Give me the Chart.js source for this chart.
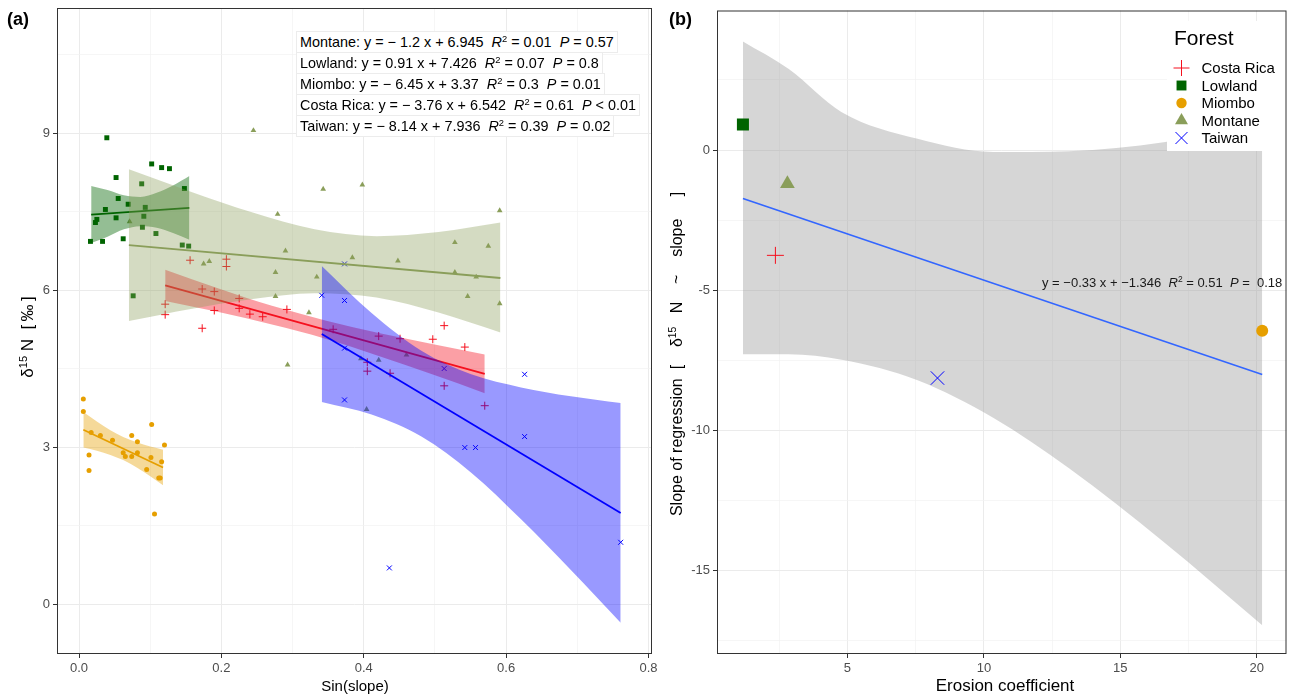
<!DOCTYPE html>
<html>
<head>
<meta charset="UTF-8">
<title>delta15N and slope by forest</title>
<script src="https://cdn.jsdelivr.net/npm/chart.js"></script>
<style>
  body { margin: 0; background: #fff; font-family: "Liberation Sans", Arial, sans-serif; }
  #wrap { position: relative; width: 1297px; height: 696px; overflow: hidden; background: #fff; }
  canvas { position: absolute; top: 0; }
  .lbl { position: absolute; white-space: nowrap; color: #000; }
  .tag { font-weight: bold; font-size: 18px; }
  .ytitle { width: 440px; height: 20px; line-height: 20px; text-align: center; transform: rotate(-90deg); }
  .xtitle { width: 300px; text-align: center; }
  .eq { font-size: 14.4px; background: #fff; border: 1px solid #ececec; padding: 0 3px; height: 20px; line-height: 20px; }
  .eqb { font-size: 13px; color: #1a1a1a; }
  sup { font-size: 65%; position: relative; top: -0.55em; vertical-align: baseline; line-height: 0; }
</style>
</head>
<body>
<div id="wrap">
  <canvas id="chartA" width="660" height="696" style="left:0;width:660px;height:696px"></canvas>
  <canvas id="chartB" width="637" height="696" style="left:660px;width:637px;height:696px"></canvas>

  <div class="lbl tag" style="left:7px;top:9px">(a)</div>
  <div class="lbl tag" style="left:669px;top:9px">(b)</div>

  <div class="lbl ytitle" style="left:-192px;top:327px;font-size:17px">&delta;<sup>15</sup> N &nbsp;[&thinsp;&permil;&thinsp;]</div>
  <div class="lbl ytitle" style="left:457px;top:344px;font-size:16px">Slope of regression &nbsp;[ &nbsp;&nbsp;&nbsp;&delta;<sup>15</sup>&nbsp;&nbsp; N &nbsp;&nbsp;&nbsp;~&nbsp;&nbsp;&nbsp; slope &nbsp;&nbsp;&nbsp;&nbsp;]</div>
  <div class="lbl xtitle" style="left:205px;top:677px;font-size:15px">Sin(slope)</div>
  <div class="lbl xtitle" style="left:855px;top:676px;font-size:17px">Erosion coefficient</div>

  <div class="lbl eq" style="left:296px;top:31px">Montane: y = &minus; 1.2 x + 6.945 &nbsp;<i>R</i><sup>2</sup> = 0.01 &nbsp;<i>P</i> = 0.57</div>
  <div class="lbl eq" style="left:296px;top:52px">Lowland: y = 0.91 x + 7.426 &nbsp;<i>R</i><sup>2</sup> = 0.07 &nbsp;<i>P</i> = 0.8</div>
  <div class="lbl eq" style="left:296px;top:73px">Miombo: y = &minus; 6.45 x + 3.37 &nbsp;<i>R</i><sup>2</sup> = 0.3 &nbsp;<i>P</i> = 0.01</div>
  <div class="lbl eq" style="left:296px;top:94px">Costa Rica: y = &minus; 3.76 x + 6.542 &nbsp;<i>R</i><sup>2</sup> = 0.61 &nbsp;<i>P</i> &lt; 0.01</div>
  <div class="lbl eq" style="left:296px;top:115px">Taiwan: y = &minus; 8.14 x + 7.936 &nbsp;<i>R</i><sup>2</sup> = 0.39 &nbsp;<i>P</i> = 0.02</div>

  <div class="lbl eqb" style="left:1042px;top:275px">y = &minus;0.33 x + &minus;1.346 &nbsp;<i>R</i><sup>2</sup> = 0.51 &nbsp;<i>P</i> = &nbsp;0.18</div>
</div>

<script>
// forests, in legend order
const forests = ['Costa Rica', 'Lowland', 'Miombo', 'Montane', 'Taiwan'];

// ---- panel (a): delta15N against sin(slope) ----
const costaRicaX = [0.121, 0.121, 0.156, 0.173, 0.173, 0.190, 0.190, 0.207, 0.207, 0.225, 0.225, 0.240, 0.258,
                    0.292, 0.357, 0.405, 0.405, 0.421, 0.437, 0.451, 0.497, 0.513, 0.513, 0.542, 0.570];
const costaRicaY = [5.73, 5.53, 6.57, 6.02, 5.27, 5.97, 5.61, 6.59, 6.45, 5.84, 5.65, 5.54, 5.49,
                    5.63, 5.25, 4.62, 4.45, 5.12, 4.41, 5.07, 5.06, 5.32, 4.17, 4.91, 3.79];

const lowlandX = [0.039, 0.052, 0.102, 0.116, 0.127, 0.088, 0.148, 0.055, 0.069, 0.037, 0.093, 0.025,
                  0.023, 0.052, 0.091, 0.089, 0.108, 0.016, 0.033, 0.062, 0.145, 0.154, 0.076];
const lowlandY = [8.91, 8.15, 8.41, 8.34, 8.32, 8.03, 7.94, 7.75, 7.64, 7.54, 7.58, 7.35,
                  7.29, 7.38, 7.41, 7.20, 7.08, 6.93, 6.93, 6.98, 6.86, 6.84, 5.89];

const miomboX = [0.006, 0.006, 0.017, 0.030, 0.047, 0.074, 0.082, 0.062, 0.065, 0.074, 0.082,
                 0.102, 0.101, 0.120, 0.116, 0.014, 0.014, 0.095, 0.112, 0.114, 0.106];
const miomboY = [3.92, 3.68, 3.28, 3.22, 3.13, 3.22, 3.10, 2.89, 2.82, 2.82, 2.89,
                 3.43, 2.80, 3.04, 2.72, 2.85, 2.55, 2.57, 2.41, 2.41, 1.72];

const montaneX = [0.071, 0.175, 0.183, 0.245, 0.276, 0.276, 0.279, 0.290, 0.293, 0.323, 0.334, 0.343, 0.384,
                  0.396, 0.398, 0.404, 0.421, 0.448, 0.460, 0.528, 0.528, 0.546, 0.558, 0.575, 0.591, 0.591];
const montaneY = [7.31, 6.50, 6.55, 9.05, 6.34, 5.88, 7.45, 6.75, 4.57, 5.57, 6.25, 7.93, 6.62,
                  4.69, 8.01, 3.72, 4.66, 6.56, 4.76, 6.91, 6.34, 5.88, 6.25, 6.84, 7.52, 5.74];

const taiwanX = [0.341, 0.373, 0.373, 0.373, 0.373, 0.436, 0.513, 0.542, 0.557, 0.626, 0.626, 0.761];
const taiwanY = [5.90, 6.50, 5.80, 4.89, 3.90, 0.69, 4.50, 2.99, 2.99, 4.39, 3.20, 1.18];

// fitted lines (ends)
const costaRicaFitX = [0.121, 0.570], costaRicaFitY = [6.09, 4.40];
const lowlandFitX = [0.017, 0.155],   lowlandFitY = [7.44, 7.57];
const miomboFitX = [0.006, 0.118],    miomboFitY = [3.33, 2.61];
const montaneFitX = [0.070, 0.592],   montaneFitY = [6.86, 6.23];
const taiwanFitX = [0.341, 0.761],    taiwanFitY = [5.16, 1.74];

// confidence bands, edges read at a few x positions
const costaRicaBandX = [0.121, 0.196, 0.271, 0.346, 0.421, 0.496, 0.570];
const costaRicaBandHi = [6.39, 6.03, 5.70, 5.42, 5.18, 4.97, 4.77];
const costaRicaBandLo = [5.79, 5.58, 5.34, 5.07, 4.74, 4.39, 4.03];

const lowlandBandX = [0.017, 0.040, 0.063, 0.086, 0.109, 0.132, 0.155];
const lowlandBandHi = [7.99, 7.91, 7.81, 7.78, 7.86, 8.00, 8.18];
const lowlandBandLo = [6.90, 7.02, 7.16, 7.22, 7.19, 7.09, 6.96];

const miomboBandX = [0.006, 0.025, 0.044, 0.062, 0.081, 0.100, 0.118];
const miomboBandHi = [3.67, 3.49, 3.32, 3.19, 3.09, 3.01, 2.95];
const miomboBandLo = [2.99, 2.93, 2.85, 2.75, 2.61, 2.44, 2.27];

const montaneBandX = [0.070, 0.157, 0.244, 0.331, 0.418, 0.505, 0.592];
const montaneBandHi = [8.31, 7.88, 7.48, 7.16, 7.03, 7.11, 7.29];
const montaneBandLo = [5.41, 5.64, 5.83, 5.94, 5.86, 5.57, 5.19];

const taiwanBandX = [0.341, 0.411, 0.481, 0.551, 0.621, 0.691, 0.761];
const taiwanBandHi = [6.46, 5.56, 4.84, 4.39, 4.14, 3.97, 3.84];
const taiwanBandLo = [3.86, 3.62, 3.20, 2.51, 1.62, 0.65, -0.36];

const aTicksX = [0, 0.2, 0.4, 0.6, 0.8], aLabelsX = ['0.0', '0.2', '0.4', '0.6', '0.8'];
const aMinorX = [0.1, 0.3, 0.5, 0.7];
const aTicksY = [0, 3, 6, 9], aLabelsY = ['0', '3', '6', '9'];
const aMinorY = [1.5, 4.5, 7.5, 10.5];

// ---- panel (b): slope of each regression against erosion coefficient ----
const erosion = [2.36, 1.17, 20.2, 2.80, 8.30];
const slopeReg = [-3.76, 0.91, -6.45, -1.20, -8.14];
const bFitX = [1.17, 20.2], bFitY = [-1.73, -8.01];
const bBandX = [1.17, 2.85, 4.79, 7.57, 10.34, 13.12, 16.59, 20.2];
const bBandHi = [3.87, 2.89, 1.35, 0.40, -0.07, -0.04, 0.28, 0.94];
const bBandLo = [-7.29, -7.29, -7.49, -8.22, -9.56, -11.36, -13.99, -16.96];

const bTicksX = [5, 10, 15, 20], bLabelsX = ['5', '10', '15', '20'];
const bMinorX = [2.5, 7.5, 12.5, 17.5];
const bTicksY = [-15, -10, -5, 0], bLabelsY = ['-15', '-10', '-5', '0'];
const bMinorY = [-17.5, -12.5, -7.5, -2.5, 2.5];

// styles
const colors = ['#F5101E', '#006400', '#E69F00', '#8A9E5A', '#0000FF'];
const fills = ['rgba(245,16,30,0.40)', 'rgba(0,100,0,0.42)', 'rgba(230,159,0,0.40)', 'rgba(138,158,90,0.37)', 'rgba(0,0,255,0.40)'];
const shapes = ['cross', 'rect', 'circle', 'triangle', 'crossRot'];
const sizeA = [4, 3.5, 2.5, 3.3, 3.5];
const sizeB = [8.5, 8.5, 6, 8.5, 9.5];
const sizeLegend = [8, 7, 5.2, 7.5, 8.5];

Chart.defaults.font.family = '"Liberation Sans", Arial, sans-serif';
Chart.defaults.animation = false;

function pts(xs, ys) { return xs.map((x, i) => ({ x: x, y: ys[i] })); }

function axis(min, max, majors, minors, labels, isX) {
  const isMajor = c => c.tick && majors.indexOf(c.tick.value) >= 0;
  return {
    type: 'linear', min: min, max: max,
    afterBuildTicks: s => { s.ticks = majors.concat(minors).sort((a, b) => a - b).map(v => ({ value: v })); },
    afterFit: s => {
      if (isX) s.height = 42; else s.width = 57;
      s.paddingLeft = 0; s.paddingRight = 0; s.paddingTop = 0; s.paddingBottom = 0;
    },
    ticks: {
      autoSkip: false, maxRotation: 0, padding: 3, color: '#4D4D4D', font: { size: 13 },
      callback: v => { const k = majors.indexOf(v); return k < 0 ? '' : labels[k]; }
    },
    grid: {
      color: c => isMajor(c) ? '#EBEBEB' : '#F2F2F2',
      lineWidth: c => isMajor(c) ? 1 : 0.7,
      tickColor: c => isMajor(c) ? '#333333' : 'rgba(0,0,0,0)',
      tickLength: 4
    },
    border: { display: false }
  };
}

function marker(ctx, shape, x, y, r, color) {
  ctx.save();
  ctx.fillStyle = color; ctx.strokeStyle = color; ctx.lineWidth = 1;
  ctx.beginPath();
  if (shape === 'cross') {
    ctx.moveTo(x - r, y); ctx.lineTo(x + r, y); ctx.moveTo(x, y - r); ctx.lineTo(x, y + r); ctx.stroke();
  } else if (shape === 'crossRot') {
    const d = r * 0.707;
    ctx.moveTo(x - d, y - d); ctx.lineTo(x + d, y + d); ctx.moveTo(x - d, y + d); ctx.lineTo(x + d, y - d); ctx.stroke();
  } else if (shape === 'rect') {
    const d = r * 0.707; ctx.fillRect(x - d, y - d, 2 * d, 2 * d);
  } else if (shape === 'circle') {
    ctx.arc(x, y, r, 0, Math.PI * 2); ctx.fill();
  } else {
    ctx.moveTo(x, y - r); ctx.lineTo(x + r * 0.866, y + r * 0.5); ctx.lineTo(x - r * 0.866, y + r * 0.5); ctx.closePath(); ctx.fill();
  }
  ctx.restore();
}

function panelBorder(chart) {
  const a = chart.chartArea, ctx = chart.ctx;
  ctx.save();
  ctx.strokeStyle = '#333333'; ctx.lineWidth = 1;
  ctx.strokeRect(a.left + 0.5, a.top + 0.5, a.right - a.left - 1, a.bottom - a.top - 1);
  ctx.restore();
}

// ---- build panel (a) ----
const groupsA = [
  [costaRicaX, costaRicaY, costaRicaFitX, costaRicaFitY, costaRicaBandX, costaRicaBandHi, costaRicaBandLo],
  [lowlandX, lowlandY, lowlandFitX, lowlandFitY, lowlandBandX, lowlandBandHi, lowlandBandLo],
  [miomboX, miomboY, miomboFitX, miomboFitY, miomboBandX, miomboBandHi, miomboBandLo],
  [montaneX, montaneY, montaneFitX, montaneFitY, montaneBandX, montaneBandHi, montaneBandLo],
  [taiwanX, taiwanY, taiwanFitX, taiwanFitY, taiwanBandX, taiwanBandHi, taiwanBandLo]
];

const dsA = [];
groupsA.forEach((g, i) => {
  dsA.push({
    type: 'scatter', label: forests[i], data: pts(g[0], g[1]), order: 100,
    pointStyle: shapes[i], pointRadius: sizeA[i], backgroundColor: colors[i], borderColor: colors[i],
    pointBorderWidth: (shapes[i] === 'cross' || shapes[i] === 'crossRot') ? 1 : 0
  });
});
groupsA.forEach((g, i) => {
  dsA.push({
    type: 'line', label: forests[i] + ' band', data: pts(g[4], g[5]), order: 50 - 2 * i,
    fill: '+1', backgroundColor: fills[i], borderWidth: 0, pointRadius: 0, cubicInterpolationMode: 'monotone'
  });
  dsA.push({
    type: 'line', label: forests[i] + ' band low', data: pts(g[4], g[6]), order: 50 - 2 * i,
    fill: false, borderWidth: 0, pointRadius: 0, cubicInterpolationMode: 'monotone'
  });
  dsA.push({
    type: 'line', label: forests[i] + ' fit', data: pts(g[2], g[3]), order: 49 - 2 * i,
    fill: false, borderColor: colors[i], borderWidth: 1.8, pointRadius: 0
  });
});

new Chart(document.getElementById('chartA'), {
  type: 'scatter',
  data: { datasets: dsA },
  options: {
    responsive: false, events: [],
    layout: { padding: { top: 8, right: 8, left: 0, bottom: 0 } },
    plugins: { legend: { display: false }, tooltip: { enabled: false } },
    scales: {
      x: axis(-0.031, 0.805, aTicksX, aMinorX, aLabelsX, true),
      y: axis(-0.955, 11.39, aTicksY, aMinorY, aLabelsY, false)
    }
  },
  plugins: [{ id: 'frameA', afterDatasetsDraw: c => panelBorder(c) }]
});

// ---- build panel (b) ----
const dsB = [{
  type: 'line', label: 'band', data: pts(bBandX, bBandHi), order: 50,
  fill: '+1', backgroundColor: 'rgba(153,153,153,0.4)', borderWidth: 0, pointRadius: 0, cubicInterpolationMode: 'monotone'
}, {
  type: 'line', label: 'band low', data: pts(bBandX, bBandLo), order: 50,
  fill: false, borderWidth: 0, pointRadius: 0, cubicInterpolationMode: 'monotone'
}, {
  type: 'line', label: 'fit', data: pts(bFitX, bFitY), order: 40,
  fill: false, borderColor: '#3366FF', borderWidth: 1.6, pointRadius: 0
}];
forests.forEach((f, i) => {
  dsB.push({
    type: 'scatter', label: f, data: [{ x: erosion[i], y: slopeReg[i] }], order: 10,
    pointStyle: shapes[i], pointRadius: sizeB[i], backgroundColor: colors[i], borderColor: colors[i],
    pointBorderWidth: (shapes[i] === 'cross' || shapes[i] === 'crossRot') ? 1 : 0
  });
});

const legendB = {
  id: 'legendB',
  afterDatasetsDraw(chart) {
    const ctx = chart.ctx;
    ctx.save();
    ctx.fillStyle = '#fff';
    ctx.fillRect(507, 21, 125, 130);
    ctx.fillStyle = '#000';
    ctx.textBaseline = 'middle';
    ctx.font = '21px "Liberation Sans", Arial, sans-serif';
    ctx.fillText('Forest', 514, 39);
    ctx.font = '15px "Liberation Sans", Arial, sans-serif';
    const rows = [68, 85.5, 103, 120.5, 138];
    forests.forEach((f, i) => {
      marker(ctx, shapes[i], 521.5, rows[i], sizeLegend[i], colors[i]);
      ctx.fillStyle = '#000';
      ctx.fillText(f, 541.5, rows[i] + 1);
    });
    ctx.restore();
    panelBorder(chart);
  }
};

new Chart(document.getElementById('chartB'), {
  type: 'scatter',
  data: { datasets: dsB },
  options: {
    responsive: false, events: [],
    layout: { padding: { top: 8, right: 4, left: 0, bottom: 0 } },
    plugins: { legend: { display: false }, tooltip: { enabled: false } },
    scales: {
      x: axis(0.22, 21.09, bTicksX, bMinorX, bLabelsX, true),
      y: axis(-17.99, 4.98, bTicksY, bMinorY, bLabelsY, false)
    }
  },
  plugins: [legendB]
});
</script>
</body>
</html>
